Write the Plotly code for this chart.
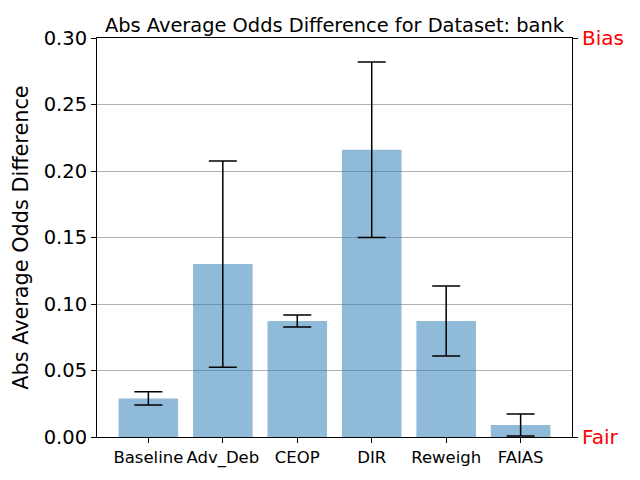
import plotly.graph_objects as go

categories = ["Baseline", "Adv_Deb", "CEOP", "DIR", "Reweigh", "FAIAS"]
values = [0.029, 0.130, 0.0872, 0.216, 0.0872, 0.009]
errors = [0.005, 0.0775, 0.0045, 0.066, 0.0263, 0.0083]
positions = list(range(len(categories)))

font_family = "DejaVu Sans"

fig = go.Figure()
fig.add_trace(go.Bar(
    x=positions, y=values, width=0.8,
    marker=dict(color="rgba(31,119,180,0.5)", line=dict(width=0)),
    error_y=dict(type="data", array=errors, visible=True, color="black",
                 thickness=1.5, width=14),
    showlegend=False,
))

fig.update_layout(
    width=640, height=480,
    margin=dict(l=89, r=76, t=30, b=51, autoexpand=False),
    plot_bgcolor="white", paper_bgcolor="white",
    font=dict(family=font_family, color="black"),
    title=dict(text="Abs Average Odds Difference for Dataset: bank",
               x=0.5, xref="paper", xanchor="center",
               y=1, yref="paper", yanchor="bottom",
               pad=dict(b=6), font=dict(size=19.4, family=font_family)),
    xaxis=dict(range=[-0.69, 5.69], tickmode="array", tickvals=positions,
               ticktext=categories, tickfont=dict(size=16.5),
               ticks="outside", ticklen=5, tickwidth=1, tickcolor="black",
               showline=True, linecolor="black", linewidth=1, mirror=True,
               showgrid=False, zeroline=False),
    yaxis=dict(range=[0, 0.30], tickmode="array",
               tickvals=[0, 0.05, 0.10, 0.15, 0.20, 0.25, 0.30],
               ticktext=["0.00", "0.05", "0.10", "0.15", "0.20", "0.25", "0.30"],
               tickfont=dict(size=19.5),
               ticks="outside", ticklen=5, tickwidth=1, tickcolor="black",
               showline=True, linecolor="black", linewidth=1,
               showgrid=True, gridcolor="#b0b0b0", gridwidth=1, zeroline=False,
               title=dict(text="Abs Average Odds Difference", font=dict(size=20.8),
                          standoff=9)),
    yaxis2=dict(range=[0, 0.30], overlaying="y", side="right",
                tickmode="array", tickvals=[0, 0.30], ticktext=["Fair", "Bias"],
                tickfont=dict(size=20, color="red"),
                ticks="outside", ticklen=5, tickwidth=1, tickcolor="black",
                showline=True, linecolor="black", linewidth=1,
                showgrid=False, zeroline=False),
)
fig.add_trace(go.Scatter(x=[None], y=[None], yaxis="y2", showlegend=False,
                         hoverinfo="skip"))

fig.write_html("out.html")
